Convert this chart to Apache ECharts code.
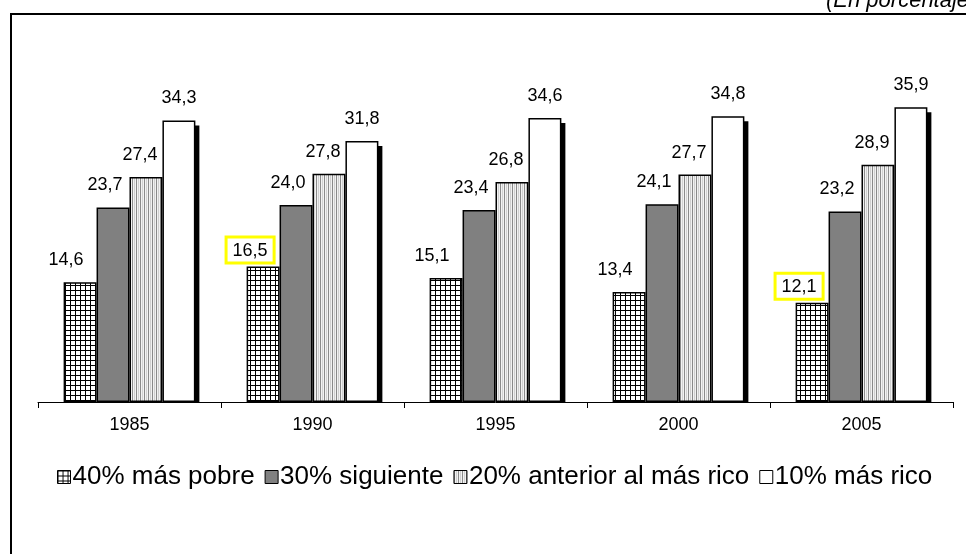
<!DOCTYPE html>
<html><head><meta charset="utf-8">
<script src="https://cdn.jsdelivr.net/npm/echarts@6/dist/echarts.min.js"></script>
<style>html,body{margin:0;padding:0;background:#fff}#c{width:966px;height:554px}</style>
</head><body><div id="c"></div>
<script>
// ---- data ----
const categories = ['1985', '1990', '1995', '2000', '2005'];
const seriesNames = ['40% más pobre', '30% siguiente', '20% anterior al más rico', '10% más rico'];
const pobre40 = [14.6, 16.5, 15.1, 13.4, 12.1];
const siguiente30 = [23.7, 24.0, 23.4, 24.1, 23.2];
const anterior20 = [27.4, 27.8, 26.8, 27.7, 28.9];
const rico10 = [34.3, 31.8, 34.6, 34.8, 35.9];
const unitNote = '(En porcentajes)';
const boxedPoorIdx = [1, 4]; // labels framed in yellow in the original

// ---- patterns ----
function makeTile(w, h, draw) {
  const c = document.createElement('canvas');
  c.width = w; c.height = h;
  draw(c.getContext('2d'));
  return c;
}
const gridTile = makeTile(5, 5, g => {
  g.fillStyle = '#fff'; g.fillRect(0, 0, 5, 5);
  g.fillStyle = '#000'; g.fillRect(0, 0, 5, 1); g.fillRect(0, 0, 1, 5);
});
const stripeTile = makeTile(4, 4, g => {
  g.fillStyle = '#f2f2f2'; g.fillRect(0, 0, 4, 4);
  g.fillStyle = '#8a8a8a'; g.fillRect(0, 0, 1, 4);
  g.fillStyle = '#d0d0d0'; g.fillRect(2, 0, 1, 4);
});
const fills = [
  { image: gridTile, repeat: 'repeat' },
  '#808080',
  { image: stripeTile, repeat: 'repeat' },
  '#ffffff'
];
const values = [pobre40, siguiente30, anterior20, rico10];
const labelShift = [-14, -8, -6, 0];
const CAT_GAP = 0.28;
const fmt = v => v.toFixed(1).replace('.', ',');
const FONT = 'Liberation Sans, Arial, sans-serif';

const series = values.map((arr, s) => ({
  name: seriesNames[s],
  type: 'bar',
  z: 3,
  barGap: '0%',
  barCategoryGap: (CAT_GAP * 100) + '%',
  itemStyle: { color: fills[s], borderColor: '#000', borderWidth: 1.5 },
  label: {
    show: true, position: 'top', distance: 13, offset: [labelShift[s], 0],
    color: '#000', fontFamily: FONT, fontSize: 18,
    formatter: p => fmt(p.value)
  },
  data: arr.map((v, i) => (s === 0 && boxedPoorIdx.includes(i)) ? {
    value: v,
    label: { borderColor: '#ffff00', borderWidth: 3, padding: [3, 5, 2, 5], distance: 5, offset: [-13, 0], backgroundColor: '#fff' }
  } : v)
}));

// drop shadow behind the white (10% más rico) bars
series.push({
  type: 'custom', name: 'sombra', z: 1, silent: true,
  renderItem: (params, api) => {
    const top = api.coord([api.value(0), api.value(1)]);
    const base = api.coord([api.value(0), 0]);
    const band = api.size([1, 0])[0];
    const bw = band * (1 - CAT_GAP) / 4;
    return {
      type: 'rect',
      shape: { x: top[0] + bw + 4, y: top[1] + 5, width: bw, height: base[1] - top[1] - 5 },
      style: { fill: '#000' }
    };
  },
  data: rico10.map((v, i) => [i, v])
});

const chart = echarts.init(document.getElementById('c'), null, { renderer: 'canvas' });
chart.setOption({
  animation: false,
  backgroundColor: '#fff',
  grid: { left: 38, right: 13, top: 73.6, bottom: 152, containLabel: false },
  xAxis: {
    type: 'category', data: categories,
    axisLine: { lineStyle: { color: '#000', width: 1 } },
    axisTick: { show: true, length: 6, lineStyle: { color: '#000' } },
    axisLabel: { color: '#000', fontFamily: FONT, fontSize: 18, margin: 14 }
  },
  yAxis: { type: 'value', min: 0, max: 40, show: false, splitLine: { show: false } },
  legend: {
    data: seriesNames,
    top: 459, left: 52, icon: 'rect', itemWidth: 13, itemHeight: 13, itemGap: 10,
    textStyle: { color: '#000', fontFamily: FONT, fontSize: 26, padding: [0, 0, 0, -3] },
    itemStyle: { borderColor: '#000', borderWidth: 1 }
  },
  graphic: [
    { type: 'rect', shape: { x: 11, y: 14, width: 1000, height: 700 }, style: { fill: 'none', stroke: '#000', lineWidth: 2 }, silent: true },
    { type: 'text', x: 826, y: 12, style: { text: unitNote, font: 'italic 22px ' + FONT, fill: '#000', verticalAlign: 'bottom' } }
  ],
  series
});
</script></body></html>
